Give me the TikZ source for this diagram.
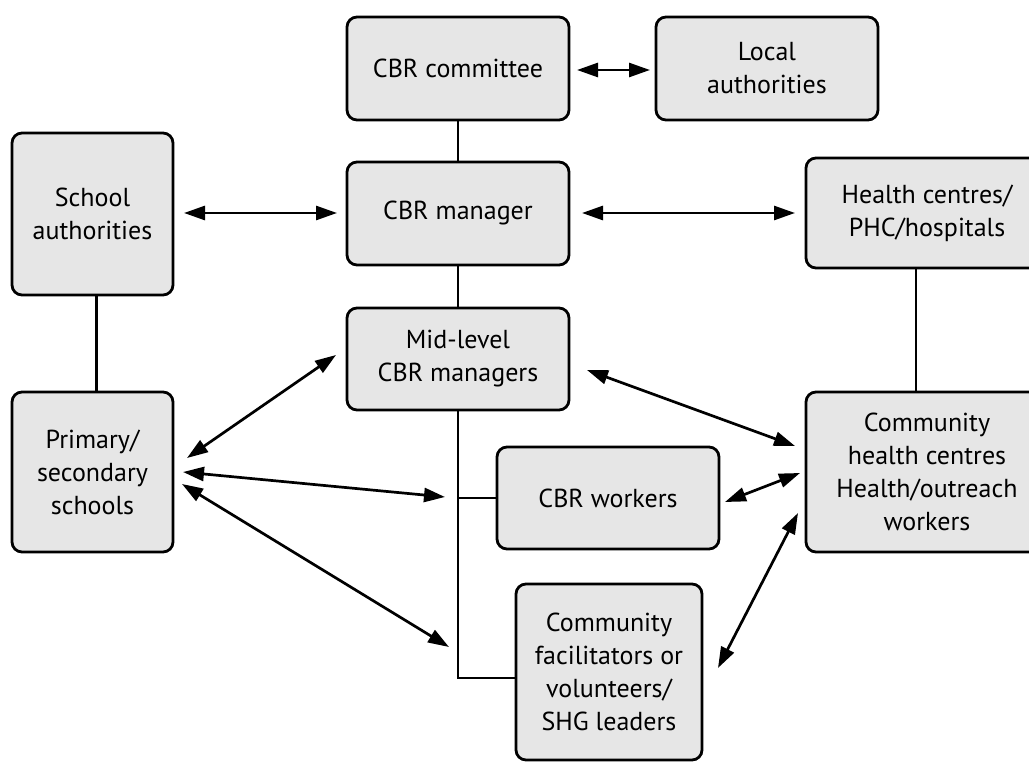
\documentclass[tikz,border=0pt]{standalone}
\usepackage{fontspec}
\setmainfont{PT Sans}
\usetikzlibrary{arrows.meta}
\begin{document}
\begin{tikzpicture}[x=1pt,y=-1pt,
  box/.style={draw=black, line width=2.8pt, fill=boxgray, rounded corners=10pt,
    align=center, inner sep=0pt, font=\fontsize{26}{33}\selectfont},
  link/.style={line width=2.7pt},
  arr/.style={line width=2.7pt, {Triangle[length=21pt,width=14pt]}-{Triangle[length=21pt,width=14pt]}}]
\definecolor{boxgray}{HTML}{E6E6E6}
\useasboundingbox (0,0) rectangle (1029,762);
\clip (0,0) rectangle (1029,762);
% nodes
\node[box, minimum width=222, minimum height=103] (com) at (458,68.5) {CBR committee};
\node[box, minimum width=222, minimum height=103] (loc) at (767,68.5) {Local\\authorities};
\node[box, minimum width=222, minimum height=103] (mgr) at (458,213.5) {CBR manager};
\node[box, minimum width=161, minimum height=162] (sch) at (92.5,214) {School\\authorities};
\node[box, minimum width=242, minimum height=110] (hc) at (927,213) {Health centres/\\PHC/hospitals};
\node[box, minimum width=222, minimum height=102] (mid) at (458,359) {Mid-level\\CBR managers};
\node[box, minimum width=161, minimum height=160] (pri) at (92.5,472) {Primary/\\secondary\\schools};
\node[box, minimum width=242, minimum height=160] (chc) at (927,472) {Community\\health centres\\Health/outreach\\workers};
\node[box, minimum width=222, minimum height=102] (wrk) at (608,498) {CBR workers};
\node[box, minimum width=186, minimum height=176] (fac) at (609,672) {Community\\facilitators or\\volunteers/\\SHG leaders};
% trunk coordinates
\coordinate (tw) at (458,498);
\coordinate (tf) at (458,678);
% hierarchy lines
\draw[link] (com.south) -- (mgr.north);
\draw[link] (mgr.south) -- (mid.north);
\draw[link] (mid.south) -- (tf) -- (fac.west |- tf);
\draw[link] (tw) -- (wrk.west);
\draw[link] ([xshift=4pt]sch.south) -- ([xshift=4pt]pri.north);
\draw[link] ([xshift=-11pt]hc.south) -- ([xshift=-11pt]chc.north);
% arrow end coordinates
\coordinate (a1) at (577,70);  \coordinate (b1) at (650,70);
\coordinate (a2) at (184,213); \coordinate (b2) at (337,213);
\coordinate (a3) at (582,213); \coordinate (b3) at (795,213);
\coordinate (a4) at (187,458); \coordinate (b4) at (336,355);
\coordinate (a5) at (183,472); \coordinate (b5) at (445,497);
\coordinate (a6) at (182,484); \coordinate (b6) at (449,647);
\coordinate (a7) at (587,370); \coordinate (b7) at (795,446);
\coordinate (a8) at (725,502); \coordinate (b8) at (800,473);
\coordinate (a9) at (718,668); \coordinate (b9) at (798,513);
\draw[arr] (a1) -- (b1);
\draw[arr] (a2) -- (b2);
\draw[arr] (a3) -- (b3);
\draw[arr] (a4) -- (b4);
\draw[arr] (a5) -- (b5);
\draw[arr] (a6) -- (b6);
\draw[arr] (a7) -- (b7);
\draw[arr] (a8) -- (b8);
\draw[arr] (a9) -- (b9);
\end{tikzpicture}
\end{document}
